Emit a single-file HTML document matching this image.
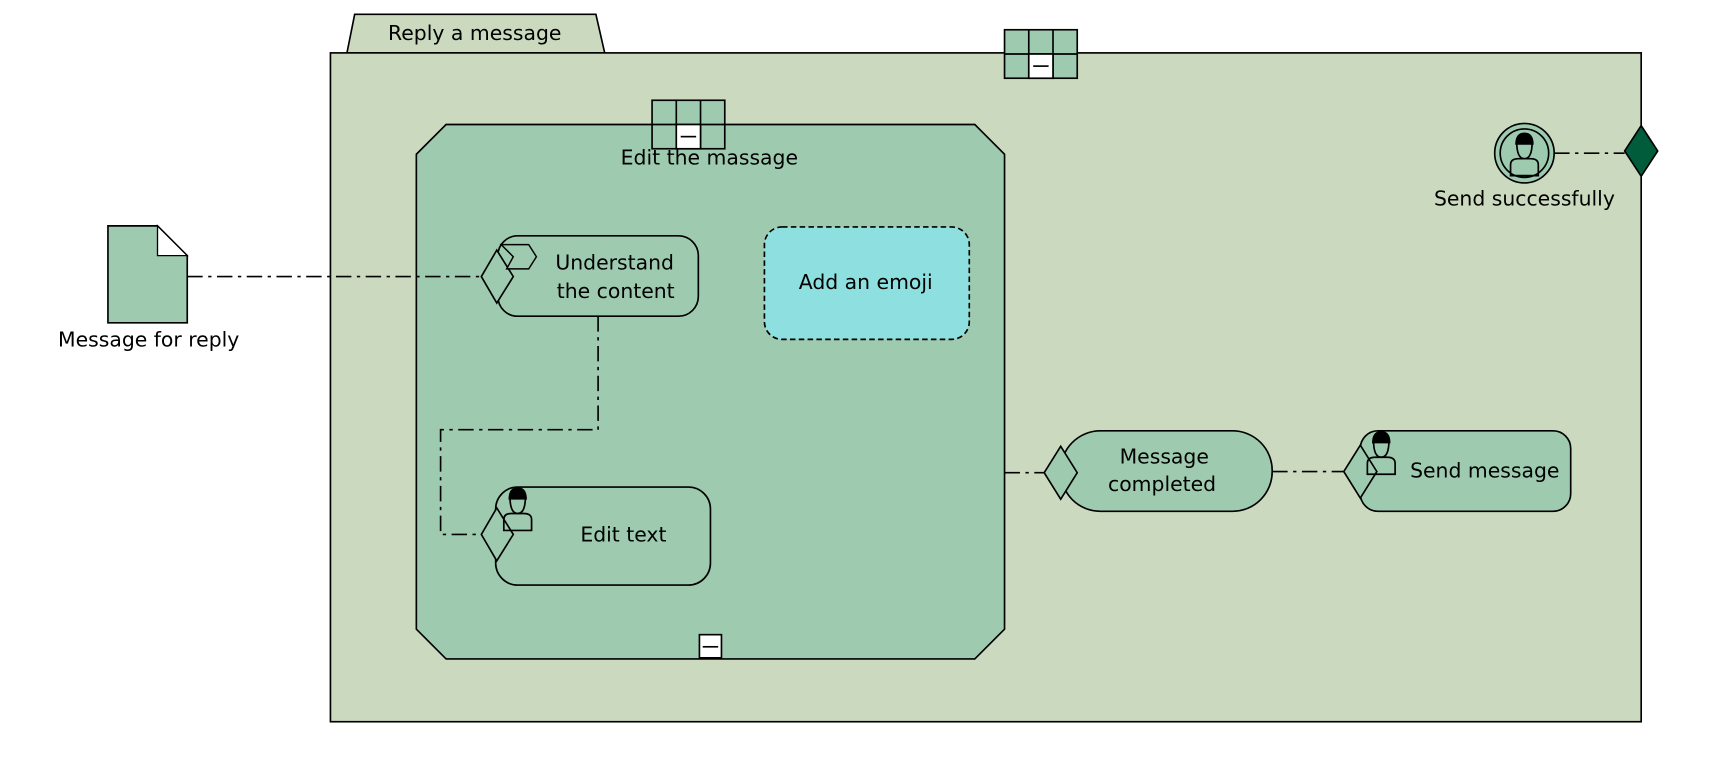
<!DOCTYPE html>
<html><head><meta charset="utf-8"><style>
html,body{margin:0;padding:0;background:#fff;width:1726px;height:768px;overflow:hidden}
svg{display:block}
text{font-family:"DejaVu Sans","Liberation Sans",sans-serif;font-size:18.5px;fill:#000;text-anchor:middle;dominant-baseline:middle}
</style></head><body>
<svg width="1726" height="768" viewBox="0 0 1567 697" preserveAspectRatio="none" xmlns="http://www.w3.org/2000/svg">
<defs>
<g id="grid">
<rect x="0" y="0" width="66" height="44" fill="#9ecbb0" stroke="#000" stroke-width="1.5"/>
<line x1="22" y1="0" x2="22" y2="44" stroke="#000" stroke-width="1.5"/>
<line x1="44" y1="0" x2="44" y2="44" stroke="#000" stroke-width="1.5"/>
<line x1="0" y1="22" x2="66" y2="22" stroke="#000" stroke-width="1.5"/>
<rect x="22" y="22" width="22" height="22" fill="#fff" stroke="#000" stroke-width="1.5"/>
<line x1="26" y1="33" x2="40" y2="33" stroke="#000" stroke-width="1.5"/>
</g>
<g id="person" transform="scale(1.4)">
<path d="M-9,16 L-9,9 Q-9,5 -4,5 L4,5 Q9,5 9,9 L9,16 Z" fill="none" stroke="#000" stroke-width="1.1"/>
<path d="M-5,-6 Q-5,5 0,5 Q5,5 5,-6 Z" fill="none" stroke="#000" stroke-width="1.1"/>
<path d="M-6,-4 Q-6,-12 0,-12 Q6,-12 6,-4 Z" fill="#000"/>
</g>
</defs>
<polygon points="315,48 322,13 541,13 549,48" fill="#cbd9bf" stroke="#000" stroke-width="1.5"/>
<text x="431" y="31">Reply a message</text>
<rect x="300" y="48" width="1190" height="607" fill="#cbd9bf" stroke="#000" stroke-width="1.5"/>
<use href="#grid" x="912" y="27"/>
<polygon points="405,113 885,113 912,140 912,571 885,598 405,598 378,571 378,140" fill="#9ecbb0" stroke="#000" stroke-width="1.5"/>
<use href="#grid" x="592" y="91"/>
<text x="644" y="144">Edit the massage</text>
<rect x="635" y="576" width="20" height="21" fill="#fff" stroke="#000" stroke-width="1.5"/>
<line x1="638" y1="587" x2="652" y2="587" stroke="#000" stroke-width="1.5"/>
<polygon points="98,205 143,205 170,232 170,293 98,293" fill="#9ecbb0" stroke="#000" stroke-width="1.5"/>
<polygon points="143,205 170,232 143,232" fill="#fff" stroke="#000" stroke-width="1.2"/>
<text x="135" y="309">Message for reply</text>
<g fill="none" stroke="#000" stroke-width="1.5" stroke-dasharray="14,5,3,5">
<path d="M170,251 L437,251"/>
<path d="M543,287 L543,390 L400,390 L400,485 L437,485"/>
<path d="M912,429 L948,429"/>
<path d="M1155,428 L1220,428"/>
<path d="M1411,139 L1475,139"/>
</g>
<rect x="452" y="214" width="182" height="73" rx="18" fill="#9ecbb0" stroke="#000" stroke-width="1.5"/>
<polygon points="437,251 451,227 466,251 451,275" fill="#9ecbb0" stroke="#000" stroke-width="1.5"/>
<polygon points="455,222 480,222 487,233 480,244 460,244 466,233" fill="#9ecbb0" stroke="#000" stroke-width="1.3"/>
<text x="558" y="239">Understand</text>
<text x="559" y="265">the content</text>
<rect x="694" y="206" width="186" height="102" rx="16" fill="#8ddfe0" stroke="#000" stroke-width="1.5" stroke-dasharray="5,3"/>
<text x="786" y="257">Add an emoji</text>
<rect x="450" y="442" width="195" height="89" rx="20" fill="#9ecbb0" stroke="#000" stroke-width="1.5"/>
<polygon points="437,485 451,461 466,485 451,509" fill="#9ecbb0" stroke="#000" stroke-width="1.5"/>
<use href="#person" x="470" y="459"/>
<text x="566" y="486">Edit text</text>
<rect x="963" y="391" width="192" height="73" rx="36" fill="#9ecbb0" stroke="#000" stroke-width="1.5"/>
<polygon points="948,429 963,405 978,429 963,453" fill="#9ecbb0" stroke="#000" stroke-width="1.5"/>
<text x="1057" y="415">Message</text>
<text x="1055" y="440">completed</text>
<rect x="1235" y="391" width="191" height="73" rx="16" fill="#9ecbb0" stroke="#000" stroke-width="1.5"/>
<polygon points="1220,428 1235,404 1250,428 1235,452" fill="#9ecbb0" stroke="#000" stroke-width="1.5"/>
<use href="#person" x="1254" y="408"/>
<text x="1348" y="428">Send message</text>
<circle cx="1384" cy="139" r="27" fill="#9ecbb0" stroke="#000" stroke-width="1.5"/>
<circle cx="1384" cy="139" r="22" fill="none" stroke="#000" stroke-width="1.5"/>
<use href="#person" x="1384" y="137"/>
<polygon points="1475,137 1490,114 1505,137 1490,160" fill="#005c3a" stroke="#000" stroke-width="1.5"/>
<text x="1384" y="181">Send successfully</text>
</svg>
</body></html>
